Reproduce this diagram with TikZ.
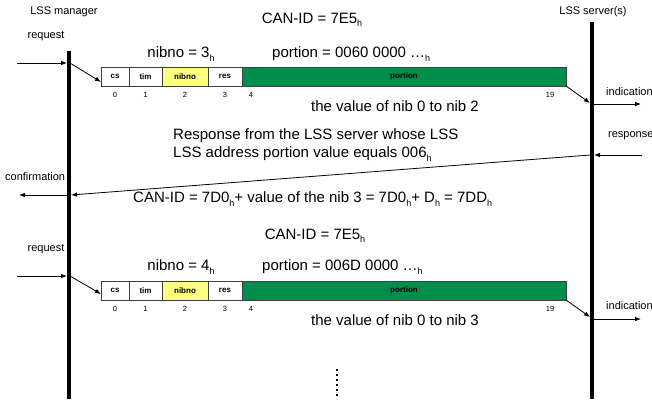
\documentclass[tikz,border=0pt]{standalone}
\usepackage{fontspec}
\setmainfont{Liberation Sans}
\usetikzlibrary{arrows.meta,calc}
\definecolor{portiongreen}{RGB}{0,142,76}
\definecolor{nibyellow}{RGB}{255,255,128}
\newcommand\hsub{\raisebox{-0.4ex}{\fontsize{9}{9}\selectfont h}}
% one LSS frame: #1 name prefix, #2 top edge
\newcommand\lssframe[2]{%
  \node[cell, minimum width=28pt] (#1cs) at (101,#2) {cs};
  \node[cell, minimum width=33pt] (#1tim) at (#1cs.north east) {tim};
  \node[cell, minimum width=46pt, fill=nibyellow] (#1nib) at (#1tim.north east) {nibno};
  \node[cell, minimum width=34pt] (#1res) at (#1nib.north east) {res};
  \node[cell, minimum width=324pt, fill=portiongreen] (#1por) at (#1res.north east) {portion};
  \node[idx] at ($(#1cs.south)+(0,9)$) {0};
  \node[idx] at ($(#1tim.south)+(0,9)$) {1};
  \node[idx] at ($(#1nib.south)+(0,9)$) {2};
  \node[idx] at ($(#1res.south)+(0,9)$) {3};
  \node[idx] at ($(#1por.south west)+(9,9)$) {4};
  \node[idx] at ($(#1por.south east)+(-16,9)$) {19};
}
\begin{document}
\begin{tikzpicture}[x=1pt,y=-1pt,
  cell/.style={draw=black!75, line width=0.8pt, fill=white, anchor=north west,
    minimum height=19pt, inner sep=0pt, outer sep=0pt,
    font=\fontsize{8}{9}\selectfont\bfseries},
  idx/.style={inner sep=0pt, font=\fontsize{7.5}{9}\selectfont},
  big/.style={inner sep=0pt, font=\fontsize{15}{18}\selectfont},
  small/.style={inner sep=0pt, font=\fontsize{11}{13}\selectfont},
  lifeline/.style={line width=4pt},
  msg/.style={line width=0.8pt, -{Latex[length=6pt,width=4.5pt]}}]
\useasboundingbox (0,0) rectangle (652,399);

% lifelines
\coordinate (mgrtop) at (69,51);
\coordinate (mgrbot) at (69,399);
\coordinate (srvtop) at (592,22);
\coordinate (srvbot) at (592,399);
\draw[lifeline] (mgrtop) -- (mgrbot);
\draw[lifeline] (srvtop) -- (srvbot);
\node[small] (mgrlabel) at (64,12) {LSS manager};
\node[small] (srvlabel) at (593,12) {LSS server(s)};

% first request
\node[big] (canid1) at (312,20) {CAN-ID = 7E5\hsub};
\node[small] (reqlabel1) at (46,36) {request};
\node[big] (nibno1) at (181,54) {nibno = 3\hsub};
\node[big, anchor=west] (portion1) at (272,54) {portion = 0060 0000 …\hsub};
\lssframe{fa}{67}
\node[big, anchor=west] (nibtext1) at (311,106) {the value of nib 0 to nib 2};
\coordinate (req1in) at (17,63);
\coordinate (req1hit) at (67,63);
\coordinate (req1out) at (70,63);
\draw[msg] (req1in) -- (req1hit);
\draw[msg] (req1out) -- ($(facs.south west)+(0,-4)$);
\coordinate (ind1hit) at (590,103);
\coordinate (ind1out) at (594,104);
\coordinate (ind1end) at (641,104);
\draw[msg] (fapor.south east) -- (ind1hit);
\draw[msg] (ind1out) -- (ind1end);
\node[small, anchor=west] (indlabel1) at (606,92) {indication};

% response and confirmation
\node[small, anchor=west] (resplabel) at (608,136) {response};
\node[big, anchor=west, align=left] (resptext) at (173,145)
  {Response from the LSS server whose LSS\\LSS address portion value equals 006\hsub};
\coordinate (respin) at (642,155);
\coordinate (resphit) at (594,155);
\coordinate (respout) at (590,155);
\coordinate (confhit) at (71,195);
\coordinate (confout) at (67,195);
\coordinate (confend) at (19,195);
\draw[msg] (respin) -- (resphit);
\draw[msg] (respout) -- (confhit);
\draw[msg] (confout) -- (confend);
\node[small, anchor=west] (conflabel) at (5,177) {confirmation};
\node[big, anchor=west] (canid2) at (133,199)
  {CAN-ID = 7D0\hsub+ value of the nib 3 = 7D0\hsub+ D\hsub\ = 7DD\hsub};

% second request
\node[big] (canid3) at (315,236) {CAN-ID = 7E5\hsub};
\node[small] (reqlabel2) at (46,249) {request};
\node[big] (nibno2) at (181,267) {nibno = 4\hsub};
\node[big, anchor=west] (portion2) at (262,267) {portion = 006D 0000 …\hsub};
\lssframe{fb}{281}
\node[big, anchor=west] (nibtext2) at (311,320) {the value of nib 0 to nib 3};
\coordinate (req2in) at (17,276);
\coordinate (req2hit) at (67,276);
\coordinate (req2out) at (70,276);
\draw[msg] (req2in) -- (req2hit);
\draw[msg] (req2out) -- ($(fbcs.south west)+(0,-6)$);
\coordinate (ind2hit) at (590,317);
\coordinate (ind2out) at (594,319);
\coordinate (ind2end) at (641,319);
\draw[msg] (fbpor.south east) -- (ind2hit);
\draw[msg] (ind2out) -- (ind2end);
\node[small, anchor=west] (indlabel2) at (606,306) {indication};

% continuation dots
\coordinate (dotstop) at (337,369);
\coordinate (dotsbot) at (337,399);
\draw[line width=2pt, dash pattern=on 1.8pt off 3.2pt] (dotstop) -- (dotsbot);
\end{tikzpicture}
\end{document}
